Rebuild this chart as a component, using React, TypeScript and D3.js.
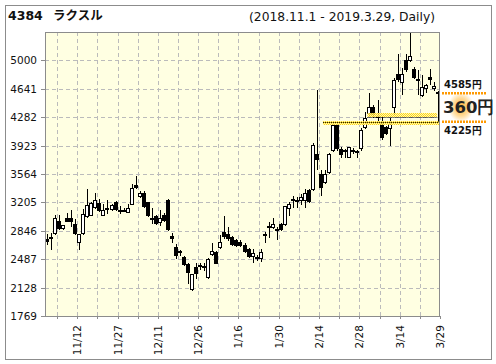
import React from 'react';
import * as d3 from 'd3';

const dates = [
  '11/1','11/2','11/5','11/6','11/7','11/8','11/9','11/12','11/13','11/14','11/15','11/16','11/19','11/20','11/21','11/22','11/26','11/27','11/28','11/29','11/30',
  '12/3','12/4','12/5','12/6','12/7','12/10','12/11','12/12','12/13','12/14','12/17','12/18','12/19','12/20','12/21','12/25','12/26','12/27','12/28',
  '1/4','1/7','1/8','1/9','1/10','1/11','1/15','1/16','1/17','1/18','1/21','1/22','1/23','1/24','1/25','1/28','1/29','1/30','1/31',
  '2/1','2/4','2/5','2/6','2/7','2/8','2/12','2/13','2/14','2/15','2/18','2/19','2/20','2/21','2/22','2/25','2/26','2/27','2/28',
  '3/1','3/4','3/5','3/6','3/7','3/8','3/11','3/12','3/13','3/14','3/15','3/18','3/19','3/20','3/22','3/25','3/26','3/27','3/28','3/29',
];

const open = [
  2737, 2762, 2812, 2975, 2886, 3002, 3002, 2935, 2710, 2812,
  3030, 3048, 3145, 3200, 3044, 3140, 3118, 3212, 3115, 3106,
  3086, 3191, 3428, 3284, 3320, 3205, 3012, 3032, 2962, 3050,
  3237, 2779, 2642, 2587, 2515, 2430, 2106, 2392, 2405, 2390,
  2265, 2549, 2577, 2644, 2825, 2800, 2770, 2735, 2710, 2665,
  2615, 2530, 2512, 2507, 2804, 2909, 2896, 2863, 2938, 2930,
  3140, 3254, 3235, 3233, 3233, 3359, 3380, 3813, 3561, 3464,
  3591, 3864, 4182, 3883, 3864, 3782, 3872, 3853, 3887, 4155,
  4333, 4417, 4300, 4203, 4161, 4144, 4410, 4823, 4729, 5002,
  5006, 4897, 4771, 4560, 4648, 4792, 4645, 4600,
];
const high = [
  2800, 2820, 3040, 3050, 2925, 3070, 3110, 2990, 2810, 3120,
  3380, 3210, 3320, 3250, 3190, 3233, 3180, 3225, 3165, 3140,
  3185, 3435, 3536, 3350, 3345, 3215, 3128, 3045, 3107, 3070,
  3245, 2815, 2680, 2605, 2528, 2440, 2305, 2445, 2434, 2434,
  2500, 2686, 2590, 2791, 3031, 2896, 2780, 2745, 2725, 2686,
  2630, 2610, 2540, 2620, 2833, 2960, 3002, 2897, 2950, 3165,
  3212, 3284, 3275, 3317, 3380, 3380, 3950, 4630, 3612, 3612,
  3830, 4190, 4200, 3900, 3885, 3910, 3890, 3872, 4140, 4352,
  4590, 4430, 4495, 4280, 4175, 4276, 4775, 5086, 4905, 5084,
  5345, 4920, 4876, 4813, 4700, 4897, 4731, 4610,
];
const low = [
  2680, 2620, 2800, 2870, 2875, 2965, 2905, 2805, 2610, 2800,
  3015, 3040, 3130, 3100, 3040, 3065, 3110, 3115, 3070, 3090,
  3080, 3185, 3390, 3275, 3150, 3035, 2945, 2935, 2918, 2975,
  2850, 2700, 2500, 2545, 2415, 2190, 2100, 2250, 2362, 2350,
  2255, 2540, 2440, 2630, 2760, 2730, 2665, 2660, 2655, 2580,
  2520, 2455, 2476, 2470, 2707, 2770, 2880, 2737, 2860, 2920,
  3044, 3149, 3149, 3191, 3149, 3215, 3360, 3633, 3296, 3455,
  3580, 3850, 3870, 3780, 3780, 3775, 3830, 3780, 3870, 4140,
  4300, 4290, 4230, 4010, 4070, 3929, 4320, 4740, 4570, 4860,
  4990, 4780, 4570, 4550, 4600, 4697, 4625, 4570,
];
const close = [
  2722, 2772, 3002, 2882, 2915, 2976, 2972, 2812, 2802, 3060,
  3175, 3195, 3241, 3110, 3107, 3126, 3170, 3120, 3108, 3114,
  3140, 3390, 3398, 3328, 3160, 3044, 3002, 2950, 3005, 2985,
  2868, 2749, 2545, 2579, 2428, 2329, 2299, 2307, 2409, 2396,
  2486, 2589, 2444, 2699, 2776, 2755, 2673, 2668, 2667, 2594,
  2530, 2564, 2508, 2581, 2787, 2896, 2930, 2855, 2875, 3157,
  3183, 3250, 3231, 3275, 3330, 3225, 3927, 3755, 3401, 3561,
  3813, 4180, 3887, 3815, 3856, 3904, 3856, 3841, 4123, 4266,
  4417, 4320, 4285, 4034, 4087, 4200, 4750, 4765, 4823, 4887,
  5061, 4792, 4769, 4665, 4687, 4760, 4682, 4585,
];

const yTicks = [1769, 2128, 2487, 2846, 3205, 3564, 3923, 4282, 4641, 5000];
const yMax = 5359;
const xTickLabels = ['11/12', '11/27', '12/11', '12/26', '1/16', '1/30', '2/14', '2/28', '3/14', '3/29'];

const code = '4384';
const companyName = 'ラクスル';
const period = '(2018.11.1 - 2019.3.29, Daily)';
const lastPrice = 4585;
const supportPrice = 4225;
const upperLevel = 4285;
const upperLevelStart = '3/5';
const lowerLevelStart = '2/18';

const FONT = "'DejaVu Sans', Verdana, sans-serif";

export default function App() {
  const W = 496, H = 364;
  const left = 45, right = 440, top = 32, bottom = 316;

  const x = d3.scaleBand<string>().domain(dates).range([left, right]).padding(0);
  const bw = x.bandwidth();
  const y = d3.scaleLinear().domain([yTicks[0], yMax]).range([bottom, top]);
  const cx = (d: string) => Math.round((x(d) as number) + bw / 2);
  const edge = (d: string) => Math.round((x(d) as number) + bw) + 0.5;

  const gridDates = dates.filter((_, i) => (i - 2) % 5 === 0 && i < dates.length - 1);
  const tickDates = dates.filter((_, i) => (i - 2) % 5 === 0);

  const lastDate = dates[dates.length - 1];
  const bx = cx(lastDate) + 0.5;
  const yLast = y(lastPrice);
  const ySup = y(supportPrice);
  const yUp = y(upperLevel);

  return (
    <svg width={W} height={H} style={{ position: 'absolute', left: 0, top: 0, background: '#fff' }}>
      <defs>
        <radialGradient id="glow" cx="50%" cy="50%" r="50%">
          <stop offset="0%" stopColor="#ff9900" stopOpacity={0.8} />
          <stop offset="60%" stopColor="#ffa500" stopOpacity={0.4} />
          <stop offset="100%" stopColor="#ffa500" stopOpacity={0} />
        </radialGradient>
        <pattern id="chk" width={2} height={2} patternUnits="userSpaceOnUse">
          <rect width={2} height={2} fill="#fff6b0" />
          <rect width={1} height={1} fill="#ffd400" />
          <rect x={1} y={1} width={1} height={1} fill="#ffd400" />
        </pattern>
      </defs>
      <rect x={5.5} y={5.5} width={486} height={354} fill="#fff" stroke="#8c8c8c" />

      {/* title */}
      <text x={8} y={20} fontFamily={FONT} fontWeight="bold" fontSize={12.5} fill="#111">{code}</text>
      <text x={53} y={20} fontFamily="'Noto Sans CJK JP', sans-serif" fontWeight="bold" fontSize={12.5} fill="#111">{companyName}</text>
      <text x={435} y={21} textAnchor="end" fontFamily={FONT} fontSize={12.3} fill="#111">{period}</text>

      {/* plot background */}
      <rect x={left} y={top} width={right - left} height={bottom - top} fill="#ffffe2" />

      {/* grid */}
      {yTicks.slice(1).map((t) => {
        const yy = Math.round(y(t)) + 0.5;
        return <line key={'hg' + t} x1={left} x2={right} y1={yy} y2={yy} stroke="#bbbbbb" strokeDasharray="4 3" />;
      })}
      {gridDates.map((d) => (
        <line key={'vg' + d} x1={edge(d)} x2={edge(d)} y1={top} y2={bottom} stroke="#bbbbbb" strokeDasharray="4 3" />
      ))}

      {/* candles */}
      {dates.map((d, i) => {
        const c = cx(d);
        const o = open[i], cl = close[i];
        const up = cl >= o;
        const yTop = Math.round(y(Math.max(o, cl)));
        const yBot = Math.round(y(Math.min(o, cl)));
        const h = Math.max(1, yBot - yTop);
        return (
          <g key={'c' + d}>
            <line x1={c + 0.5} x2={c + 0.5} y1={Math.round(y(high[i]))} y2={Math.round(y(low[i])) + 1} stroke="#000" />
            <rect x={c - 1.5} y={yTop + 0.5} width={3} height={h} fill={up ? '#fff' : '#000'} stroke="#000" />
          </g>
        );
      })}

      {/* level bands */}
      <rect x={x(upperLevelStart) as number} y={Math.round(yUp) - 4} width={bx - 1.5 - (x(upperLevelStart) as number)} height={4} fill="url(#chk)" opacity={0.9} />
      <line x1={x(upperLevelStart) as number} x2={bx - 1.5} y1={Math.round(yUp) + 0.5} y2={Math.round(yUp) + 0.5} stroke="#000" strokeDasharray="1 1" />
      <rect x={x(lowerLevelStart) as number} y={Math.round(ySup) - 1} width={right - (x(lowerLevelStart) as number)} height={4} fill="url(#chk)" opacity={0.9} />
      <line x1={x(lowerLevelStart) as number} x2={right} y1={Math.round(ySup) + 0.5} y2={Math.round(ySup) + 0.5} stroke="#000" strokeDasharray="1 1" />

      {/* bracket */}
      <line x1={bx} x2={bx} y1={yLast} y2={ySup} stroke="#000" />
      <line x1={bx - 1.5} x2={bx + 1.5} y1={Math.round(yLast) + 0.5} y2={Math.round(yLast) + 0.5} stroke="#000" />

      {/* plot frame */}
      <rect x={left + 0.5} y={top + 0.5} width={right - left - 1} height={bottom - top} fill="none" stroke="#8c8c8c" />

      {/* y axis */}
      {yTicks.map((t) => {
        const yy = Math.round(y(t)) + 0.5;
        return (
          <g key={'yt' + t}>
            <line x1={41} x2={left} y1={yy} y2={yy} stroke="#8c8c8c" />
            <text x={37} y={yy} dy="0.35em" textAnchor="end" fontFamily={FONT} fontSize={10.5} fill="#111">{t}</text>
          </g>
        );
      })}

      {/* x axis */}
      {tickDates.map((d) => (
        <line key={'xt' + d} x1={edge(d)} x2={edge(d)} y1={bottom} y2={bottom + 3} stroke="#8c8c8c" />
      ))}
      {xTickLabels.map((lab) => {
        const ex = edge(lab);
        return (
          <text key={'xl' + lab} transform={`translate(${ex},325) rotate(-90)`} dy="0.35em" textAnchor="end" fontFamily={FONT} fontSize={10.5} fill="#111">{lab}</text>
        );
      })}

      {/* right annotation */}
      <ellipse cx={461} cy={107} rx={13} ry={15} fill="url(#glow)" />
      <line x1={442} x2={487} y1={yLast} y2={yLast} stroke="#ff9900" strokeWidth={2.5} strokeDasharray="2 1" />
      <line x1={442} x2={487} y1={ySup} y2={ySup} stroke="#ff9900" strokeWidth={2.5} strokeDasharray="2 1" />
      <text x={444} y={84} dy="0.35em" fontFamily={FONT} fontWeight="bold" fontSize={10} fill="#111">{lastPrice}円</text>
      <text x={443} y={107.5} dy="0.35em" fontFamily={FONT} fontWeight="bold" fontSize={16.5} fill="#222">{lastPrice - supportPrice}円</text>
      <text x={444} y={130} dy="0.35em" fontFamily={FONT} fontWeight="bold" fontSize={10} fill="#111">{supportPrice}円</text>
    </svg>
  );
}
